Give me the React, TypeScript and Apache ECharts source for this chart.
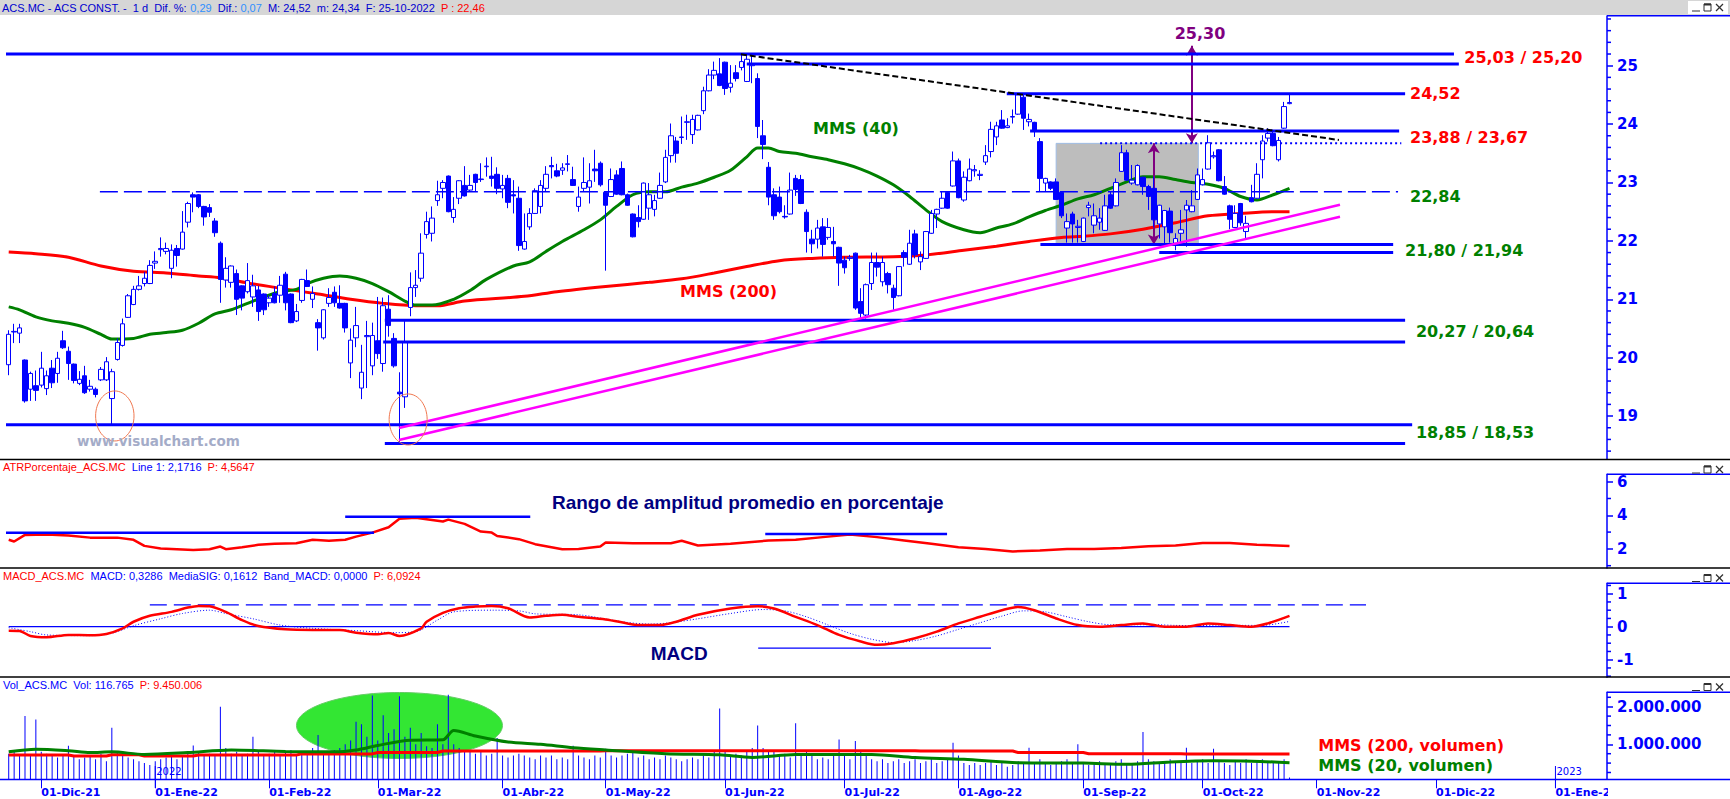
import React, { useEffect, useRef } from "react";
import * as echarts from "echarts";

// ---------------- DATA ----------------
const START_DATE = Date.UTC(2021, 10, 23);
const HOLIDAYS = ["2021-12-24", "2021-12-31", "2022-04-15", "2022-04-18"];
const SLOTS = 295;
const MONTHS = ["Ene", "Feb", "Mar", "Abr", "May", "Jun", "Jul", "Ago", "Sep", "Oct", "Nov", "Dic"];

// [open, high, low, close]
const ohlc: number[][] = [
  [19.88,20.47,19.70,20.40],[20.44,20.58,20.25,20.45],[20.42,20.58,20.25,20.51],[19.96,19.97,19.23,19.26],[19.46,19.76,19.26,19.73],
  [19.52,19.78,19.26,19.44],[19.53,20.10,19.49,19.82],[19.47,19.78,19.36,19.69],[19.82,19.96,19.48,19.57],[19.73,20.10,19.57,19.99],
  [20.29,20.46,20.15,20.17],[20.11,20.19,19.62,19.90],[19.89,19.90,19.56,19.61],[19.56,19.77,19.53,19.63],[19.69,19.86,19.38,19.40],
  [19.46,19.62,19.42,19.51],[19.46,19.49,19.32,19.37],[19.62,19.84,19.60,19.80],[19.62,20.01,19.60,19.93],[19.30,19.81,18.84,19.76],
  [19.97,20.33,19.95,20.26],[20.21,20.67,20.19,20.58],[20.69,21.09,20.68,21.06],[20.91,21.23,20.90,21.17],[21.17,21.40,21.15,21.23],
  [21.27,21.47,21.22,21.36],[21.27,21.67,21.26,21.58],[21.62,21.82,21.52,21.65],[21.85,22.06,21.73,21.87],[21.82,21.97,21.77,21.87],
  [21.53,21.94,21.36,21.84],[21.87,21.93,21.56,21.75],[21.86,22.51,21.85,22.15],[22.32,22.67,22.23,22.64],[22.79,22.83,22.49,22.75],
  [22.79,22.80,22.56,22.59],[22.59,22.60,22.26,22.41],[22.57,22.63,22.41,22.49],[22.34,22.39,22.07,22.14],[21.96,21.99,20.94,21.34],
  [21.33,21.72,21.20,21.53],[21.29,21.58,21.20,21.57],[21.44,21.51,20.73,21.00],[21.23,21.24,20.81,21.02],[21.13,21.62,21.10,21.32],
  [21.04,21.42,20.87,21.23],[21.16,21.23,20.63,20.79],[21.09,21.10,20.73,20.82],[20.94,21.07,20.87,21.02],[21.10,21.22,20.93,20.94],
  [21.07,21.40,20.94,21.24],[21.43,21.47,20.81,20.94],[21.09,21.10,20.59,20.60],[20.63,20.92,20.61,20.79],[20.98,21.35,20.94,21.34],
  [21.32,21.51,21.21,21.22],[21.00,21.22,20.85,21.10],[20.60,20.66,20.12,20.51],[20.34,20.83,20.31,20.82],[20.93,21.19,20.87,21.03],
  [21.12,21.22,20.87,20.94],[20.93,21.24,20.84,20.85],[20.93,20.94,20.43,20.51],[19.91,20.50,19.65,20.30],[20.34,20.87,20.18,20.55],
  [19.48,20.22,19.29,19.75],[20.36,20.63,19.48,20.38],[19.86,20.60,19.70,20.38],[20.29,21.04,19.98,20.07],[19.90,21.03,19.76,20.89],
  [20.83,21.07,20.36,20.55],[20.33,20.42,19.83,19.86],[19.41,19.75,18.55,19.38],[19.33,20.65,19.14,20.27],[20.86,21.46,20.71,21.20],
  [21.20,21.50,21.04,21.24],[21.36,22.13,21.30,21.79],[22.11,22.50,22.04,22.33],[22.13,22.59,21.99,22.39],[22.69,23.03,22.60,22.79],
  [22.90,23.04,22.73,23.00],[23.11,23.12,22.49,22.50],[22.40,22.75,22.31,22.54],[22.73,23.04,22.63,23.03],[22.95,23.28,22.76,22.77],
  [22.87,23.13,22.84,22.95],[23.14,23.15,22.84,23.00],[23.05,23.33,23.01,23.06],[23.27,23.43,23.10,23.28],[23.11,23.44,22.93,23.07],
  [23.14,23.26,22.80,22.90],[22.89,23.13,22.73,22.95],[23.07,23.13,22.56,22.66],[22.79,23.04,22.47,22.77],[22.73,22.93,21.83,21.92],
  [21.86,22.47,21.85,21.99],[22.24,22.56,22.19,22.47],[22.47,22.90,22.46,22.86],[22.59,23.04,22.47,22.95],[22.90,23.28,22.84,23.14],
  [23.29,23.44,23.07,23.27],[23.20,23.32,23.09,23.11],[23.21,23.33,23.13,23.25],[23.31,23.47,23.19,23.32],[23.05,23.27,22.94,22.95],
  [22.59,22.93,22.50,22.75],[22.90,23.43,22.84,23.00],[22.92,23.33,22.64,23.03],[23.23,23.56,23.01,23.20],[23.33,23.36,22.93,22.96],
  [22.83,22.85,21.49,22.61],[22.76,23.24,22.75,23.05],[23.13,23.21,22.79,22.80],[23.24,23.36,22.78,22.79],[22.79,22.81,22.60,22.61],
  [22.46,22.47,22.06,22.07],[22.40,22.61,22.23,22.33],[22.37,23.00,22.36,22.99],[22.56,22.99,22.36,22.79],[22.54,22.79,22.42,22.69],
  [22.73,23.17,22.72,22.95],[23.01,23.56,22.99,23.43],[23.46,24.01,23.34,23.80],[23.71,23.78,23.34,23.50],[23.77,24.13,23.66,23.78],
  [24.03,24.16,23.73,24.04],[23.82,24.16,23.66,24.08],[23.90,24.16,23.89,24.15],[24.23,24.64,24.17,24.57],[24.57,24.94,24.56,24.84],
  [24.84,25.07,24.77,24.92],[24.86,25.13,24.65,24.66],[25.06,25.07,24.50,24.61],[24.63,25.01,24.54,24.70],[24.88,25.01,24.73,24.78],
  [24.97,25.19,24.92,25.07],[24.73,25.21,24.72,25.11],[25.00,25.20,24.70,25.02],[24.78,24.87,23.76,23.96],[23.80,24.07,23.40,23.65],
  [23.26,23.35,22.61,22.75],[22.79,22.90,22.36,22.43],[22.75,22.93,22.47,22.50],[22.42,22.61,22.38,22.41],[22.46,23.17,22.45,22.87],
  [23.07,23.13,22.77,22.88],[23.05,23.13,22.63,22.64],[22.49,22.54,21.80,22.16],[22.03,22.19,21.79,21.95],[22.03,22.36,21.87,22.22],
  [22.24,22.39,21.73,21.94],[22.06,22.39,22.02,22.23],[21.99,22.24,21.73,21.95],[21.89,21.90,21.23,21.62],[21.67,21.73,21.44,21.54],
  [21.70,21.76,21.66,21.72],[21.79,21.80,20.82,20.85],[20.96,21.19,20.67,20.76],[20.73,21.27,20.67,21.25],[21.27,21.80,21.16,21.63],
  [21.63,21.80,21.39,21.55],[21.30,21.73,21.22,21.63],[21.44,21.47,21.10,21.25],[21.19,21.25,20.82,21.03],[21.06,21.57,21.05,21.56],
  [21.80,21.84,21.56,21.72],[21.60,22.19,21.59,21.96],[22.12,22.19,21.70,21.76],[21.64,21.82,21.50,21.73],[21.70,22.17,21.69,22.16],
  [22.13,22.53,22.12,22.47],[22.46,22.55,22.22,22.54],[22.56,22.84,22.55,22.73],[22.83,22.84,22.55,22.56],[22.94,23.53,22.93,23.37],
  [23.37,23.41,22.73,22.74],[22.70,23.19,22.67,23.09],[23.03,23.41,23.02,23.23],[23.20,23.30,23.10,23.22],[23.12,23.21,23.04,23.14],
  [23.35,23.64,23.30,23.46],[23.53,24.04,23.43,23.91],[23.78,24.04,23.64,23.97],[24.07,24.24,23.92,23.93],[23.94,24.10,23.93,23.97],
  [24.12,24.25,24.01,24.13],[24.17,24.53,24.16,24.50],[24.46,24.50,23.90,24.10],[24.04,24.18,23.96,24.08],[24.03,24.04,23.78,23.90],
  [23.70,23.76,22.84,23.07],[22.99,23.08,22.84,23.07],[23.01,23.02,22.87,22.90],[23.01,23.07,22.70,22.71],[22.83,22.84,22.39,22.43],
  [22.22,22.47,21.97,22.33],[22.46,22.50,21.97,22.29],[22.23,22.36,21.97,22.25],[21.99,22.40,21.98,22.39],[22.57,22.67,22.42,22.61],
  [22.27,22.64,22.13,22.43],[22.32,22.56,22.19,22.39],[22.18,22.79,22.17,22.60],[22.79,22.84,22.55,22.56],[22.60,23.07,22.59,23.00],
  [23.19,23.64,23.18,23.51],[23.51,23.56,23.03,23.04],[22.99,23.30,22.96,23.04],[22.96,23.31,22.95,23.29],[23.09,23.10,22.79,22.93],
  [22.93,22.96,22.53,22.76],[22.90,23.10,22.24,22.36],[22.29,22.62,22.04,22.61],[22.24,22.53,21.96,22.52],[22.51,22.57,21.97,22.14],
  [21.96,22.13,21.84,22.04],[22.13,22.53,21.96,22.19],[22.53,22.70,21.90,22.61],[22.50,22.87,22.49,22.60],[22.71,23.24,22.70,23.13],
  [22.96,23.24,22.95,23.05],[23.23,23.81,23.22,23.68],[23.44,23.53,23.41,23.46],[23.56,23.57,23.02,23.03],[22.93,23.11,22.79,22.80],
  [22.60,22.62,22.20,22.37],[22.23,22.61,22.22,22.47],[22.64,22.65,22.26,22.31],[22.16,22.43,22.04,22.30],[22.74,22.96,22.66,22.67],
  [22.73,23.33,22.72,23.14],[23.39,23.81,23.07,23.71],[23.76,23.93,23.70,23.84],[23.84,23.90,23.62,23.63],[23.39,23.78,23.36,23.72],
  [23.93,24.38,23.92,24.30],[24.35,24.52,24.34,24.37],
];

// volume in millions of shares
const volumeM: number[] = [
  0.75,0.8,0.7,1.75,0.7,1.66,0.8,0.75,0.7,0.65,
  0.7,0.96,0.7,0.6,0.65,0.7,0.6,0.75,0.55,1.44,
  0.8,0.7,0.65,0.6,0.55,0.5,0.45,0.55,0.6,0.65,
  0.7,0.6,0.7,0.8,0.97,0.8,0.7,0.75,0.7,2.0,
  0.9,0.75,0.8,0.7,0.75,1.2,0.85,0.7,0.75,0.8,
  0.7,0.8,0.85,0.7,0.75,0.8,0.9,1.25,0.8,0.75,
  0.85,0.9,1.0,1.1,1.6,1.53,1.2,2.3,1.1,1.77,
  1.3,1.4,2.28,1.2,1.44,1.0,1.3,0.95,0.9,1.53,
  1.0,2.32,1.0,0.9,0.85,0.8,0.75,0.8,0.7,0.75,
  1.17,0.7,0.65,0.7,0.75,0.7,0.65,0.6,0.7,0.65,
  0.7,0.6,0.65,0.6,0.96,0.7,0.65,0.6,0.7,0.65,
  0.88,0.7,0.65,0.7,0.75,0.8,0.65,0.7,0.6,0.65,
  0.6,0.7,0.65,0.6,0.55,0.6,0.65,0.6,0.7,0.65,
  0.8,1.95,0.8,0.7,0.75,0.7,0.8,0.9,1.5,0.9,
  0.8,0.85,0.7,0.75,0.65,1.56,0.7,0.8,0.7,0.6,
  0.65,0.6,0.7,1.13,0.7,0.6,1.09,0.8,0.7,0.6,
  0.55,0.6,0.5,0.55,0.6,0.5,0.55,0.6,0.5,0.55,
  0.6,0.5,0.55,0.6,1.04,0.7,0.5,0.45,0.5,0.45,
  0.5,0.55,0.45,0.5,0.4,0.45,0.55,0.5,0.91,0.5,
  0.6,0.5,0.45,0.5,0.55,0.6,0.5,1.0,0.5,0.45,
  0.5,0.55,0.45,0.5,0.55,0.6,0.5,0.45,0.55,1.33,
  0.6,0.55,0.5,0.55,0.6,0.5,0.55,0.91,0.5,0.55,
  0.6,0.5,0.88,0.55,0.5,0.45,0.55,0.5,0.6,0.5,
  0.55,0.6,0.5,0.55,0.5,0.6,0.116765,
];

// moving averages: [index, value]
const mms200: number[][] = [
  [0,21.81],[5,21.78],[11,21.72],[17,21.57],[23,21.48],[29,21.45],[35,21.40],[39,21.37],[44,21.28],[50,21.19],
  [57,21.09],[63,21.00],[69,20.93],[75,20.89],[79,20.89],[84,20.97],[95,21.05],[101,21.13],[110,21.22],[118,21.29],
  [124,21.35],[130,21.45],[136,21.56],[142,21.66],[148,21.70],[154,21.72],[163,21.73],[169,21.76],[176,21.84],[182,21.91],
  [188,21.99],[194,22.06],[198,22.08],[203,22.12],[209,22.20],[215,22.31],[221,22.43],[227,22.47],[233,22.50],[236,22.50],
];
const mms40: number[][] = [
  [0,20.87],[2,20.82],[5,20.70],[8,20.63],[11,20.59],[14,20.52],[17,20.40],[19,20.32],[23,20.33],[26,20.40],
  [29,20.43],[32,20.47],[35,20.59],[38,20.75],[41,20.82],[44,20.93],[47,21.04],[50,21.13],[53,21.17],[55,21.27],
  [58,21.36],[61,21.40],[64,21.36],[67,21.27],[70,21.13],[73,20.97],[75,20.90],[78,20.90],[82,21.00],[85,21.15],
  [88,21.34],[93,21.57],[96,21.64],[99,21.82],[102,21.99],[106,22.19],[109,22.36],[112,22.59],[115,22.79],[118,22.84],
  [121,22.84],[124,22.92],[127,22.99],[130,23.09],[133,23.21],[136,23.44],[138,23.59],[140,23.59],[142,23.53],[145,23.50],
  [148,23.44],[151,23.39],[154,23.32],[157,23.23],[160,23.11],[163,22.96],[166,22.76],[169,22.53],[172,22.33],[176,22.19],
  [179,22.14],[182,22.22],[185,22.29],[188,22.41],[191,22.52],[194,22.61],[197,22.72],[200,22.79],[203,22.90],[206,23.01],
  [209,23.10],[212,23.10],[215,23.05],[218,23.00],[221,22.97],[224,22.90],[227,22.76],[230,22.70],[233,22.79],[236,22.90],
];

const atrPct: number[][] = [
  [0,2.54],[1,2.44],[3,2.83],[7,2.85],[11,2.79],[15,2.67],[20,2.67],[23,2.54],[25,2.18],[28,2.02],[34,1.94],[37,1.98],
  [39,2.14],[40,1.98],[43,2.10],[46,2.24],[49,2.30],[53,2.33],[56,2.54],[59,2.48],[62,2.54],[64,2.73],[67,2.97],[70,3.29],
  [72,3.80],[75,3.86],[77,3.77],[80,3.63],[81,3.74],[84,3.49],[87,3.03],[89,2.97],[90,2.77],[94,2.58],[97,2.28],[102,1.98],
  [105,2.00],[109,2.14],[110,2.38],[115,2.34],[122,2.34],[124,2.48],[127,2.20],[133,2.30],[140,2.50],[145,2.55],[150,2.70],
  [155,2.85],[160,2.70],[165,2.50],[170,2.30],[175,2.10],[180,2.00],[185,1.85],[190,1.90],[195,2.00],[200,2.00],[205,2.05],
  [210,2.15],[215,2.20],[220,2.35],[225,2.35],[230,2.25],[236,2.17],
];

const macdLine: number[][] = [
  [0,-0.12],[2,-0.13],[4,-0.28],[7,-0.32],[11,-0.25],[15,-0.26],[18,-0.22],[21,-0.05],[23,0.15],[26,0.33],[30,0.45],
  [33,0.58],[35,0.63],[37,0.62],[40,0.45],[43,0.20],[46,0.02],[51,-0.08],[56,-0.10],[61,-0.10],[64,-0.18],[68,-0.23],
  [70,-0.19],[72,-0.28],[76,-0.05],[77,0.15],[80,0.42],[83,0.56],[86,0.61],[89,0.63],[92,0.56],[96,0.28],[99,0.33],
  [102,0.36],[105,0.30],[110,0.22],[114,0.10],[116,0.05],[120,0.05],[123,0.15],[127,0.36],[133,0.55],[138,0.62],
  [141,0.55],[145,0.30],[149,0.05],[153,-0.25],[157,-0.45],[160,-0.55],[163,-0.50],[167,-0.35],[171,-0.15],[175,0.10],
  [179,0.30],[183,0.50],[186,0.60],[189,0.50],[193,0.25],[197,0.05],[201,0.00],[205,0.05],[209,0.10],[213,0.00],
  [217,0.00],[221,0.10],[225,0.05],[229,0.00],[232,0.10],[236,0.33],
];
const macdSignal: number[][] = [
  [0,-0.03],[4,-0.15],[7,-0.25],[15,-0.27],[19,-0.20],[23,0.03],[28,0.24],[32,0.40],[37,0.50],[40,0.40],[45,0.24],
  [50,0.05],[56,-0.05],[64,-0.12],[71,-0.18],[75,-0.15],[79,0.20],[82,0.45],[89,0.50],[94,0.48],[97,0.39],[105,0.36],
  [113,0.15],[118,0.08],[122,0.12],[127,0.24],[133,0.40],[139,0.52],[143,0.48],[147,0.30],[151,0.05],[155,-0.20],
  [159,-0.38],[163,-0.48],[167,-0.42],[171,-0.28],[175,-0.08],[179,0.12],[183,0.32],[187,0.48],[191,0.45],[195,0.30],
  [199,0.15],[203,0.06],[207,0.06],[211,0.06],[215,0.04],[219,0.03],[223,0.05],[227,0.04],[231,0.04],[236,0.16],
];

const volMMS200: number[][] = [
  [0,0.716],[11,0.716],[12,0.69],[18,0.69],[19,0.72],[24,0.72],[25,0.69],[34,0.69],[35,0.716],[53,0.716],[54,0.745],
  [67,0.745],[68,0.78],[79,0.78],[80,0.82],[109,0.82],[110,0.83],[167,0.83],[168,0.82],[185,0.82],[186,0.78],[198,0.78],
  [199,0.75],[216,0.75],[217,0.74],[236,0.74],
];
const volMMS20: number[][] = [
  [0,0.80],[5,0.87],[11,0.83],[15,0.78],[19,0.80],[25,0.73],[33,0.78],[41,0.85],[51,0.81],[60,0.80],[64,0.85],[68,0.97],
  [74,1.11],[80,1.12],[82,1.37],[86,1.22],[92,1.06],[98,1.00],[104,0.91],[110,0.85],[121,0.75],[131,0.72],[137,0.65],
  [145,0.73],[153,0.73],[159,0.73],[167,0.65],[176,0.60],[186,0.51],[198,0.50],[206,0.47],[214,0.53],[222,0.56],[229,0.55],[236,0.51],
];

// horizontal levels (price) and their spans (index units)
const levelPrices = [25.20, 25.03, 24.52, 23.88, 23.67, 22.84, 21.94, 21.80, 20.64, 20.27, 18.85, 18.53];
const levelSpans = [[-0.5,266.3],[136,267.2],[183.9,257.3],[188.2,256.2],[201.1,256.6],[16.8,256],[190.1,255.1],[212,255.1],[69.3,257.3],[69,257.3],[-0.5,258.6],[69.3,257.3]];
const levelKinds = ["solid","solid","solid","solid","dotted","dashed","solid","solid","solid","solid","solid","solid"];

const resistanceLine = [[134.9, 25.195], [245.1, 23.728]];
const upperSupportLine = [[71.9, 18.796], [245.3, 22.62]];
const lowerSupportLine = [[71.9, 18.591], [245.3, 22.414]];
const target = { x: 218, from: 23.67, to: 25.34 };
const rangeArrow = { x: 211, from: 23.67, to: 21.94 };
const grayBox = [[193, 23.67], [219.2, 21.94]];

const atrLevels = [[-0.5, 67.3, 2.964], [62, 96.1, 3.916], [139.4, 172.9, 2.89]];
const macdLevels = [[0, 236, 0, "solid"], [26, 250.1, 0.66, "dashed"], [138.1, 181, -0.65, "solid"]];

// axis tick values
const priceMajor = [19, 20, 21, 22, 23, 24, 25];
const atrMajor = [2, 4, 6];
const macdMajor = [-1, 0, 1];
const volMajor = [1, 2];

// ---------------- HELPERS ----------------
const BLUE = "#0000ff";
const RED = "#ff0000";
const GREEN = "#008000";
const NAVY = "#000080";
const PURPLE = "#800080";

function buildDates(): string[] {
  const out: string[] = [];
  let t = START_DATE;
  while (out.length < SLOTS) {
    const d = new Date(t);
    const wd = d.getUTCDay();
    const iso = d.toISOString().slice(0, 10);
    if (wd !== 0 && wd !== 6 && HOLIDAYS.indexOf(iso) < 0) out.push(iso);
    t += 86400000;
  }
  return out;
}

const dates = buildDates();
const monthStart = new Set<number>();
const yearStart: number[] = [];
dates.forEach((d, i) => {
  if (i === 0) return;
  if (d.slice(5, 7) !== dates[i - 1].slice(5, 7)) monthStart.add(i);
  if (d.slice(0, 4) !== dates[i - 1].slice(0, 4)) yearStart.push(i);
});

function steps(a: number, b: number, s: number, skip: number[]): number[] {
  const r: number[] = [];
  for (let v = a; v <= b + 1e-9; v += s) {
    const x = Math.round(v * 1000) / 1000;
    if (!skip.some((k) => Math.abs(k - x) < 1e-6)) r.push(x);
  }
  return r;
}

function fmtDots(v: number) {
  const n = Math.round(v * 1e6).toString();
  return n.replace(/\B(?=(\d{3})+(?!\d))/g, ".");
}

const GRIDS = [
  { left: 6, width: 1601, top: 16, height: 443 },
  { left: 6, width: 1601, top: 474.3, height: 93.7 },
  { left: 6, width: 1601, top: 583.3, height: 94 },
  { left: 6, width: 1601, top: 692.3, height: 87 },
];
const YR = [
  [18.265, 25.851],
  [0.862, 6.44],
  [-1.533, 1.315],
  [0.069, 2.383],
];

function yMain(g: number, labels: number[], fmt?: (v: number) => string) {
  return {
    type: "value", gridIndex: g, position: "right", min: YR[g][0], max: YR[g][1],
    splitLine: { show: false },
    axisLine: { show: true, onZero: false, lineStyle: { color: BLUE, width: 1.5 } },
    axisTick: { show: true, length: 6, customValues: labels, lineStyle: { color: BLUE, width: 1.5 } },
    axisLabel: {
      show: true, customValues: labels, color: BLUE, fontWeight: "bold", fontSize: 15,
      fontFamily: "DejaVu Sans", margin: 10, formatter: fmt ? fmt : (v: number) => String(v),
    },
  };
}

function lineS(xi: number, yi: number, data: any, color: string, width: number, type: any = "solid", z = 4, smooth: any = false) {
  return {
    type: "line", xAxisIndex: xi, yAxisIndex: yi, data, symbol: "none", silent: true, z, smooth,
    lineStyle: { color, width, type }, clip: true,
  };
}

function buildOption() {
  const xCat = [0, 1, 2, 3].map((g) => ({
    type: "category", gridIndex: g, data: dates, boundaryGap: true,
    axisLine: { show: false, onZero: false },
    axisTick: g === 3 ? {
      show: true, length: 9, alignWithLabel: true, interval: (i: number) => monthStart.has(i),
      lineStyle: { color: BLUE, width: 1 },
    } : { show: false },
    axisLabel: g === 3 ? {
      show: true, interval: (i: number) => monthStart.has(i), color: BLUE, fontWeight: "bold",
      fontSize: 11, fontFamily: "DejaVu Sans", align: "left", margin: 8,
      formatter: (v: string) => `01-${MONTHS[+v.slice(5, 7) - 1]}-${v.slice(2, 4)}`,
    } : { show: false },
    splitLine: { show: false },
  }));
  const xVal = [0, 1, 2, 3].map((g) => ({
    type: "value", gridIndex: g, min: -0.5, max: SLOTS - 0.5, show: false,
    axisLine: { show: false, onZero: false }, axisTick: { show: false }, axisLabel: { show: false }, splitLine: { show: false },
  }));

  const series: any[] = [];
  series.push({
    type: "candlestick", xAxisIndex: 0, yAxisIndex: 0, z: 5, barWidth: 5,
    data: ohlc.map((c) => [c[0], c[3], c[2], c[1]]),
    itemStyle: { color: "#ffffff", color0: BLUE, borderColor: BLUE, borderColor0: BLUE, borderWidth: 1 },
    silent: true,
  });
  series.push({
    type: "line", xAxisIndex: 4, yAxisIndex: 0, data: [[target.x, target.from]], symbol: "none",
    lineStyle: { opacity: 0 }, silent: true, z: 8,
    markLine: {
      silent: true, symbol: ["arrow", "arrow"], symbolSize: [9, 10], label: { show: false },
      lineStyle: { color: PURPLE, width: 2, type: "solid" },
      data: [
        [{ coord: [target.x, target.from] }, { coord: [target.x, target.to] }],
        [{ coord: [rangeArrow.x, rangeArrow.from] }, { coord: [rangeArrow.x, rangeArrow.to] }],
      ],
    },
  });
  series.push(lineS(4, 0, mms200, RED, 3, "solid", 4, 0.3));
  series.push(lineS(4, 0, mms40, GREEN, 3, "solid", 4, 0.3));
  levelPrices.forEach((p, i) => {
    const sp = levelSpans[i];
    const k = levelKinds[i];
    const type = k === "dashed" ? [18, 6] : k === "dotted" ? [2, 3] : "solid";
    const w = k === "dashed" ? 1.5 : k === "dotted" ? 2 : 3;
    series.push(lineS(4, 0, [[sp[0], p], [sp[1], p]], BLUE, w, type, 6));
  });
  series.push(lineS(4, 0, resistanceLine, "#000000", 2, [6, 3], 6));
  series.push(lineS(4, 0, upperSupportLine, "#ff00ff", 2.5, "solid", 6));
  series.push(lineS(4, 0, lowerSupportLine, "#ff00ff", 2.5, "solid", 6));

  series.push(lineS(5, 1, atrPct, RED, 2.5, "solid", 4));
  atrLevels.forEach((l) => series.push(lineS(5, 1, [[l[0], l[2]], [l[1], l[2]]], BLUE, 2.5, "solid", 5)));

  macdLevels.forEach((l: any) => series.push(lineS(6, 2, [[l[0], l[2]], [l[1], l[2]]], BLUE, 1.2, l[3] === "dashed" ? [17, 7] : "solid", 3)));
  series.push(lineS(6, 2, macdSignal, BLUE, 1, [1, 2], 4, 0.3));
  series.push(lineS(6, 2, macdLine, RED, 2.5, "solid", 5, 0.3));

  series.push({
    type: "bar", xAxisIndex: 3, yAxisIndex: 3, data: volumeM, barWidth: 1, z: 3, silent: true,
    itemStyle: { color: BLUE },
  });
  series.push(lineS(7, 3, volMMS200, RED, 3, "solid", 5));
  series.push(lineS(7, 3, volMMS20, GREEN, 3, "solid", 5, 0.3));

  return {
    animation: false,
    backgroundColor: "#ffffff",
    textStyle: { fontFamily: "DejaVu Sans" },
    grid: GRIDS,
    xAxis: [...xCat, ...xVal],
    yAxis: [
      yMain(0, priceMajor),
      yMain(1, atrMajor),
      yMain(2, macdMajor),
      yMain(3, volMajor, fmtDots),
    ],
    series,
  };
}

function txt(x: number, y: number, text: string, color: string, font: string, align = "left", z = 50): any {
  return {
    type: "text", x, y, z, silent: true,
    style: { text, fill: color, font, align, verticalAlign: "middle", textAlign: align, textVerticalAlign: "middle" },
  };
}
function hline(x1: number, x2: number, y: number, color: string, w: number, z = 40): any {
  return { type: "line", z, silent: true, shape: { x1, y1: y, x2, y2: y }, style: { stroke: color, lineWidth: w } };
}
function buttons(y: number, bg: boolean): any[] {
  const els: any[] = [];
  const c = "#303030";
  if (bg) els.push({ type: "rect", z: 41, shape: { x: 1688, y: y - 2, width: 40, height: 13 }, style: { fill: "#ffffff" } });
  els.push({ type: "line", z: 42, shape: { x1: 1692, y1: y + 8, x2: 1700, y2: y + 8 }, style: { stroke: c, lineWidth: 1 } });
  els.push({ type: "rect", z: 42, shape: { x: 1704, y: y + 1, width: 7, height: 7 }, style: { fill: "none", stroke: c, lineWidth: 1 } });
  els.push({ type: "line", z: 42, shape: { x1: 1704, y1: y + 1.5, x2: 1711, y2: y + 1.5 }, style: { stroke: c, lineWidth: 2 } });
  els.push({ type: "line", z: 42, shape: { x1: 1716, y1: y + 1, x2: 1723, y2: y + 8 }, style: { stroke: c, lineWidth: 1.2 } });
  els.push({ type: "line", z: 42, shape: { x1: 1723, y1: y + 1, x2: 1716, y2: y + 8 }, style: { stroke: c, lineWidth: 1.2 } });
  return els;
}

function buildGraphic(chart: any): any[] {
  const finders = [
    { xAxisIndex: 4, yAxisIndex: 0 },
    { xAxisIndex: 5, yAxisIndex: 1 },
    { xAxisIndex: 6, yAxisIndex: 2 },
    { xAxisIndex: 7, yAxisIndex: 3 },
  ];
  const px = (g: number, x: number, y: number): number[] => chart.convertToPixel(finders[g], [x, y]);
  const els: any[] = [];
  const F11 = '11px "Liberation Sans"';
  const B16 = 'bold 16px "DejaVu Sans"';

  // minor ticks on the right axes
  const minors: [number, number[]][] = [
    [0, steps(18.4, 25.8, 0.2, priceMajor)],
    [1, steps(1, 6.4, 1, atrMajor)],
    [2, steps(-1.5, 1.25, 0.25, macdMajor)],
    [3, steps(0.25, 2.25, 0.25, volMajor)],
  ];
  minors.forEach(([g, vals]) => {
    vals.forEach((v) => {
      const y = px(g, 0, v)[1];
      if (y < GRIDS[g].top + 1 || y > GRIDS[g].top + GRIDS[g].height - 1) return;
      els.push({ type: "line", z: 40, silent: true, shape: { x1: 1607, y1: y, x2: 1611, y2: y }, style: { stroke: BLUE, lineWidth: 1.5 } });
    });
  });

  // header bar
  els.push({ type: "rect", z: 30, shape: { x: 0, y: 0, width: 1730, height: 15 }, style: { fill: "#d6d6d6" } });
  els.push({
    type: "text", x: 2, y: 7.5, z: 45, silent: true,
    style: {
      text: "{b|ACS.MC - ACS CONST. -  1 d  Dif. %: }{l|0,29}{b|  Dif.: }{l|0,07}{b|  M: 24,52  m: 24,34  F: 25-10-2022  }{r|P : 22,46}",
      font: F11, verticalAlign: "middle", textVerticalAlign: "middle",
      rich: {
        b: { fill: "#0000d0", font: F11 },
        l: { fill: "#2f8fff", font: F11 },
        r: { fill: RED, font: F11 },
      },
    },
  });
  els.push(...buttons(3, true));

  // panel separators and axis caps
  [459.5, 568, 677].forEach((y) => els.push(hline(0, 1730, y, "#000000", 1.5)));
  [15.7, 474.3, 583.3, 692.3].forEach((y) => els.push(hline(1607, 1730, y, BLUE, 1.5)));
  els.push(...buttons(465, false), ...buttons(573.5, false), ...buttons(682.5, false));

  // bottom axis line
  els.push({ type: "rect", z: 35, shape: { x: 1608, y: 781, width: 122, height: 18 }, style: { fill: "#ffffff" } });
  els.push(hline(0, 1730, 779.5, BLUE, 1.5, 45));

  // year markers
  yearStart.forEach((i) => {
    const p = px(3, i, 1);
    els.push({ type: "line", z: 45, shape: { x1: p[0], y1: 766, x2: p[0], y2: 788 }, style: { stroke: BLUE, lineWidth: 1 } });
    els.push(txt(p[0] + 1, 771, dates[i].slice(0, 4), BLUE, '10px "DejaVu Sans"'));
  });

  // panel legends
  const legend = (y: number, parts: [string, string][]) => {
    const rich: any = {};
    let text = "";
    parts.forEach((p, k) => {
      rich["p" + k] = { fill: p[1], font: F11 };
      text += `{p${k}|${p[0]}}`;
    });
    els.push({
      type: "text", x: 3, y, z: 45, silent: true,
      style: { text, font: F11, verticalAlign: "middle", textVerticalAlign: "middle", rich },
    });
  };
  legend(466.7, [["ATRPorcentaje_ACS.MC  ", RED], ["Line 1: 2,1716  ", BLUE], ["P: 4,5647", RED]]);
  legend(576, [["MACD_ACS.MC  ", RED], ["MACD: 0,3286  MediaSIG: 0,1612  Band_MACD: 0,0000  ", BLUE], ["P: 6,0924", RED]]);
  legend(685, [["Vol_ACS.MC  Vol: 116.765  ", BLUE], ["P: 9.450.006", RED]]);

  // level labels
  const lab = (xi: number, prices: number[], text: string, color: string, dy: number) => {
    const ys = prices.map((p) => px(0, xi, p)[1]);
    const y = ys.reduce((a, b) => a + b, 0) / ys.length + dy;
    els.push(txt(px(0, xi, 20)[0], y, text, color, B16));
  };
  lab(268.2, [25.03, 25.2], "25,03 / 25,20", RED, -1.5);
  lab(258.2, [24.52], "24,52", RED, 0);
  lab(258.2, [23.88, 23.67], "23,88 / 23,67", RED, 0);
  lab(258.2, [22.84], "22,84", GREEN, 5);
  lab(257.3, [21.8, 21.94], "21,80 / 21,94", GREEN, 2);
  lab(259.3, [20.27, 20.64], "20,27 / 20,64", GREEN, 0.5);
  lab(259.3, [18.85, 18.53], "18,85 / 18,53", GREEN, -2);

  // annotations
  let p = px(0, 148.2, 23.933);
  els.push(txt(p[0], p[1], "MMS (40)", GREEN, B16));
  p = px(0, 123.7, 21.125);
  els.push(txt(p[0], p[1], "MMS (200)", RED, B16));
  p = px(0, 219.5, 25.543);
  els.push(txt(p[0], p[1], "25,30", PURPLE, B16, "center"));
  p = px(0, 12.6, 18.574);
  els.push(txt(p[0], p[1], "www.visualchart.com", "#a4acc8", 'bold 13.5px "DejaVu Sans"'));
  p = px(1, 100.1, 4.791);
  els.push(txt(p[0], p[1], "Rango de amplitud promedio en porcentaje", NAVY, 'bold 19px "Liberation Sans"'));
  p = px(2, 118.3, -0.797);
  els.push(txt(p[0], p[1], "MACD", NAVY, 'bold 19px "Liberation Sans"'));
  p = px(3, 241.3, 0.981);
  els.push(txt(p[0], p[1], "MMS (200, volumen)", RED, B16));
  p = px(3, 241.3, 0.423);
  els.push(txt(p[0], p[1], "MMS (20, volumen)", GREEN, B16));

  // gray range box (under candles)
  const a = px(0, grayBox[0][0], grayBox[0][1]);
  const b = px(0, grayBox[1][0], grayBox[1][1]);
  els.push({
    type: "rect", z: 0, silent: true,
    shape: { x: a[0], y: a[1], width: b[0] - a[0], height: b[1] - a[1] },
    style: { fill: "#bdbdbd", stroke: "#9fbde6", lineWidth: 1 },
  });

  // ellipses
  [[19.55, 19.002, 19.2, 25], [73.6, 18.942, 19, 25.5]].forEach((e) => {
    const c = px(0, e[0], e[1]);
    els.push({ type: "ellipse", z: 20, silent: true, shape: { cx: c[0], cy: c[1], rx: e[2], ry: e[3] }, style: { fill: "none", stroke: "#f07850", lineWidth: 1 } });
  });
  const gc = px(3, 72.0, 1.5);
  els.push({ type: "ellipse", z: 0, silent: true, shape: { cx: gc[0], cy: gc[1], rx: 103, ry: 33 }, style: { fill: "#33e633", stroke: "#66cc66", lineWidth: 1 } });

  return els;
}

export default function App() {
  const ref = useRef<HTMLDivElement>(null);
  useEffect(() => {
    document.body.style.margin = "0";
    const chart = echarts.init(ref.current as HTMLDivElement, null, { renderer: "svg", width: 1730, height: 799 });
    chart.setOption(buildOption() as any);
    chart.setOption({ graphic: buildGraphic(chart) } as any);
    return () => chart.dispose();
  }, []);
  return <div ref={ref} style={{ width: 1730, height: 799 }} />;
}
